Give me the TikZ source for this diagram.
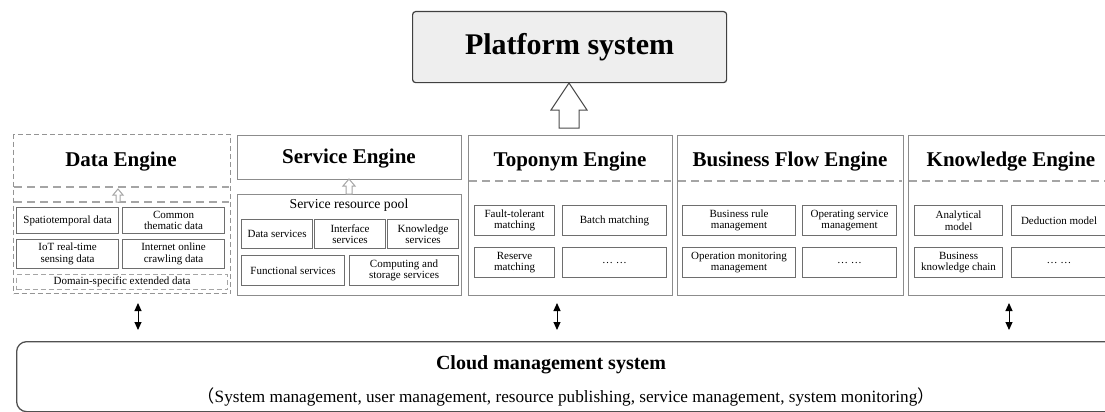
\documentclass[tikz,border=0pt]{standalone}
\usepackage{fontspec}
\setmainfont{Liberation Serif}
\newfontfamily\cjk{Noto Sans CJK SC}
\usetikzlibrary{arrows.meta}
\definecolor{subgray}{RGB}{110,110,110}
\definecolor{enggray}{RGB}{140,140,140}
\definecolor{dashgray}{RGB}{165,165,165}
\definecolor{cloudgray}{RGB}{80,80,80}
\definecolor{platfill}{RGB}{238,238,238}
\tikzset{
  subbox/.style={draw=subgray, line width=1.1pt, align=center, inner sep=0pt, anchor=north west,
    font=\fontsize{11}{11.5}\selectfont},
  engbox/.style={draw=enggray, line width=1.2pt, inner sep=0pt, anchor=north west},
  dashbox/.style={draw=dashgray, line width=1.1pt, dash pattern=on 5pt off 3pt, inner sep=0pt, anchor=north west},
  engtitle/.style={font=\fontsize{21}{23}\bfseries\selectfont, inner sep=0pt},
  dashline/.style={draw=dashgray, line width=1.1pt, dash pattern=on 8pt off 5pt},
  hollow/.style={draw=dashgray, line width=1pt, fill=white},
  dblarrow/.style={{Triangle[width=7pt,length=8pt]}-{Triangle[width=7pt,length=8pt]}, line width=1pt, black},
}
\begin{document}
\begin{tikzpicture}[x=1pt,y=-1pt]
\useasboundingbox (0,0) rectangle (1105,412);
\clip (0,0) rectangle (1105,412);
% Platform
\node[draw=black!75, line width=1.2pt, fill=platfill, rounded corners=3pt, minimum width=314pt, minimum height=71pt, anchor=north west, inner sep=0pt,
  font=\fontsize{30}{32}\bfseries\selectfont] (plat) at (412,11) {Platform system};
% big hollow arrow
\draw[draw=black!70, line width=1pt, fill=white] (569,83) -- (587,110) -- (579,110) -- (579,128) -- (559,128) -- (559,110) -- (551,110) -- cycle;
\coordinate (arrowtip) at (plat.south);

% Data Engine
\node[dashbox, draw=dashgray!90!black, minimum width=217pt, minimum height=159pt] (de) at (13,134) {};
\node[engtitle] (detitle) at (121,162) {Data Engine};
\draw[dashline] (14,187) -- (229,187);
\draw[dashline] (14,202) -- (229,202);
\draw[hollow] (118,189) -- (123,195) -- (120,195) -- (120,202) -- (116,202) -- (116,195) -- (113,195) -- cycle;
\node[subbox, minimum width=102pt, minimum height=26pt] (d1) at (16,207) {Spatiotemporal data};
\node[subbox, minimum width=102pt, minimum height=26pt] (d2) at (122,207) {Common\\thematic data};
\node[subbox, minimum width=102pt, minimum height=29pt] (d3) at (16,239) {IoT real-time\\sensing data};
\node[subbox, minimum width=102pt, minimum height=29pt] (d4) at (122,239) {Internet online\\crawling data};
\node[dashbox, minimum width=211pt, minimum height=15pt, font=\fontsize{11}{12}\selectfont] (d5) at (16,274) {Domain-specific extended data};

% Service Engine
\node[engbox, minimum width=224pt, minimum height=44pt] (se) at (237,135) {};
\node[engtitle] (setitle) at (349,159) {Service Engine};
\node[engbox, minimum width=224pt, minimum height=101pt] (pool) at (237,194) {};
\draw[hollow] (349,179) -- (355,186) -- (352,186) -- (352,194) -- (346,194) -- (346,186) -- (343,186) -- cycle;
\node[font=\fontsize{13.7}{14}\selectfont, inner sep=0pt] (pooltitle) at (349,205) {Service resource pool};
\node[subbox, minimum width=71pt, minimum height=29pt] (s1) at (241,219) {Data services};
\node[subbox, minimum width=71pt, minimum height=29pt] (s2) at (314,219) {Interface\\services};
\node[subbox, minimum width=71pt, minimum height=29pt] (s3) at (387,219) {Knowledge\\services};
\node[subbox, minimum width=103pt, minimum height=30pt] (s4) at (241,255) {Functional services};
\node[subbox, minimum width=109pt, minimum height=30pt] (s5) at (349,255) {Computing and\\storage services};

% Toponym Engine
\node[engbox, minimum width=204pt, minimum height=160pt] (te) at (468,135) {};
\node[engtitle] (tetitle) at (570,162) {Toponym Engine};
\draw[dashline] (469,181) -- (671,181);
\node[subbox, minimum width=80pt, minimum height=30pt] (t1) at (474,205) {Fault-tolerant\\matching};
\node[subbox, minimum width=104pt, minimum height=30pt] (t2) at (562,205) {Batch matching};
\node[subbox, minimum width=80pt, minimum height=30pt] (t3) at (474,247) {Reserve\\matching};
\node[subbox, minimum width=104pt, minimum height=30pt] (t4) at (562,247) {\dots\ \dots};

% Business Flow Engine
\node[engbox, minimum width=226pt, minimum height=160pt] (be) at (677,135) {};
\node[engtitle] (betitle) at (790,162) {Business Flow Engine};
\draw[dashline] (678,181) -- (902,181);
\node[subbox, minimum width=113pt, minimum height=30pt] (b1) at (682,205) {Business rule\\management};
\node[subbox, minimum width=94pt, minimum height=30pt] (b2) at (802,205) {Operating service\\management};
\node[subbox, minimum width=113pt, minimum height=30pt] (b3) at (682,247) {Operation monitoring\\management};
\node[subbox, minimum width=94pt, minimum height=30pt] (b4) at (802,247) {\dots\ \dots};

% Knowledge Engine
\node[engbox, minimum width=205pt, minimum height=160pt] (ke) at (908,135) {};
\node[engtitle] (ketitle) at (1011,162) {Knowledge Engine};
\draw[dashline] (909,181) -- (1112,181);
\node[subbox, minimum width=88pt, minimum height=30pt] (k1) at (914,205) {Analytical\\model};
\node[subbox, minimum width=95pt, minimum height=30pt] (k2) at (1011,205) {Deduction model};
\node[subbox, minimum width=88pt, minimum height=30pt] (k3) at (914,247) {Business\\knowledge chain};
\node[subbox, minimum width=95pt, minimum height=30pt] (k4) at (1011,247) {\dots\ \dots};

% Cloud management
\node[draw=cloudgray, line width=1.3pt, rounded corners=10pt, minimum width=1100pt, minimum height=70pt, anchor=north west, inner sep=0pt] (cloud) at (16,341) {};
\node[font=\fontsize{20}{22}\bfseries\selectfont, inner sep=0pt] (cloudtitle) at (551,365) {Cloud management system};
\node[font=\fontsize{17.2}{19}\selectfont, inner sep=0pt] (cloudsub) at (566,397) {{\cjk （}System management, user management, resource publishing, service management, system monitoring{\cjk ）}};

% double arrows
\coordinate (a1t) at (138,303); \coordinate (a1b) at (138,330);
\coordinate (a2t) at (557,303); \coordinate (a2b) at (557,330);
\coordinate (a3t) at (1009,303); \coordinate (a3b) at (1009,330);
\draw[dblarrow] (a1t) -- (a1b);
\draw[dblarrow] (a2t) -- (a2b);
\draw[dblarrow] (a3t) -- (a3b);
\end{tikzpicture}
\end{document}
